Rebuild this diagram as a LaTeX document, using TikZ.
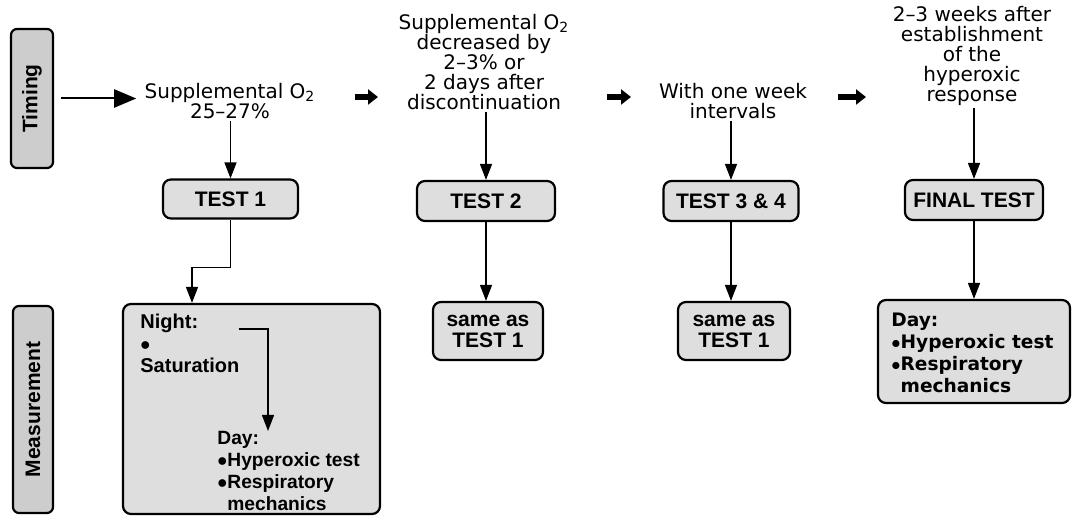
\documentclass[tikz,border=0pt]{standalone}
\usepackage{graphicx}
\usepackage{fontspec}
\setmainfont{DejaVu Sans}
\newfontfamily\boxfont{Liberation Sans}
\usetikzlibrary{arrows.meta, calc}
\definecolor{boxfill}{RGB}{222,222,222}
\definecolor{sidefill}{RGB}{205,205,205}

\begin{document}
\begin{tikzpicture}[x=0.5pt, y=-0.5pt,
    % Styles
    side box/.style={draw, line width=1.1pt, rounded corners=3pt, fill=sidefill, inner sep=0,
        font=\boxfont\bfseries\fontsize{10.5}{12}\selectfont},
    step label/.style={font=\fontsize{10}{10}\selectfont, align=center, inner sep=1pt},
    test box/.style={draw, line width=1.1pt, rounded corners=4pt, fill=boxfill, inner sep=0, align=center,
        font=\boxfont\bfseries\fontsize{10.5}{10.5}\selectfont},
    meas box/.style={draw, line width=1.1pt, rounded corners=4pt, fill=boxfill, inner sep=0},
    meas text/.style={align=left, inner sep=0, anchor=north west,
        font=\boxfont\bfseries\fontsize{10}{11.3}\selectfont},
    flow/.style={line width=0.7pt, -{Triangle[length=8pt, width=6pt]}},
    next step/.style={line width=3pt, -{Triangle[length=5pt, width=7.5pt]}},
]
    \useasboundingbox (0,0) rectangle (1073,517);

    % === Row titles ===
    \node[side box, minimum width=21pt, minimum height=69.5pt] (timing) at (32,98.5) {\rotatebox{90}{Timing}};
    \node[side box, minimum width=20pt, minimum height=103.5pt] (meas) at (33,409.5) {\rotatebox{90}{Measurement}};

    % === Timing labels ===
    \node[step label] (when-1) at (230,101) {Supplemental O\textsubscript{2}\\25--27\%};
    \node[step label] (when-2) at (484,62) {Supplemental O\textsubscript{2}\\decreased by\\2--3\% or\\2 days after\\discontinuation};
    \node[step label] (when-3) at (733,101) {With one week\\intervals};
    \node[step label] (when-4) at (972,56) {2--3 weeks after\\establishment\\of the\\hyperoxic\\response};

    % arrows between the steps
    \coordinate (nx-1a) at (355,97);  \coordinate (nx-1b) at (378,97);
    \coordinate (nx-2a) at (607,97);  \coordinate (nx-2b) at (631,97);
    \coordinate (nx-3a) at (838,97);  \coordinate (nx-3b) at (866,97);
    \draw[next step] (nx-1a) -- (nx-1b);
    \draw[next step] (nx-2a) -- (nx-2b);
    \draw[next step] (nx-3a) -- (nx-3b);

    \draw[line width=1pt, -{Triangle[length=11pt, width=9pt]}, shorten <=3.5pt, shorten >=3pt]
        (timing.east) -- (timing.east -| when-1.west);

    % === Tests ===
    \node[test box, minimum width=67.5pt, minimum height=19.5pt] (test-1) at (230.5,199) {TEST 1};
    \node[test box, minimum width=69pt, minimum height=20pt] (test-2) at (486,201) {TEST 2};
    \node[test box, minimum width=67.5pt, minimum height=20pt] (test-3) at (731,201) {TEST 3 \& 4};
    \node[test box, minimum width=69pt, minimum height=20pt] (test-f) at (974,200) {FINAL TEST};

    \draw[flow] (test-1.north |- when-1.south) -- (test-1.north);
    \draw[flow] (test-2.north |- when-2.south) -- (test-2.north);
    \draw[flow] (test-3.north |- when-3.south) -- (test-3.north);
    \draw[flow] (test-f.north |- when-4.south) -- (test-f.north);

    % === Measurements ===
    \node[meas box, minimum width=128.5pt, minimum height=105pt] (meas-1) at (251.5,409) {};
    \node[meas text] (night) at (140,314) {Night:};
    \node[meas text] (night-list) at (140,341) {$\bullet$\\Saturation};
    \node[meas text, font=\boxfont\bfseries\fontsize{9.6}{10.9}\selectfont] (day-1) at (217,431)
        {Day:\\$\bullet$Hyperoxic test\\$\bullet$Respiratory\\\phantom{$\bullet$}mechanics};
    \draw[flow] ([xshift=20pt]night.base east) -| ([xshift=25.5pt]day-1.north west);

    \node[test box, minimum width=55pt, minimum height=29pt] (same-2) at (488,331) {same as\\TEST 1};
    \node[test box, minimum width=56pt, minimum height=29pt] (same-3) at (734,331) {same as\\TEST 1};

    \node[meas box, minimum width=96pt, minimum height=51.5pt] (meas-f) at (974,351.5) {};
    \node[meas text, font=\bfseries\fontsize{9.3}{10.9}\selectfont] (day-f) at (891,313)
        {Day:\\$\bullet$Hyperoxic test\\$\bullet$Respiratory\\\phantom{$\bullet$}mechanics};

    \draw[flow] (test-1.south) -- ++(0,48) -| ([xshift=-29.75pt]meas-1.north);
    \draw[flow] (test-2.south) -- (test-2.south |- same-2.north);
    \draw[flow] (test-3.south) -- (test-3.south |- same-3.north);
    \draw[flow] (test-f.south) -- (meas-f.north);
\end{tikzpicture}
\end{document}
